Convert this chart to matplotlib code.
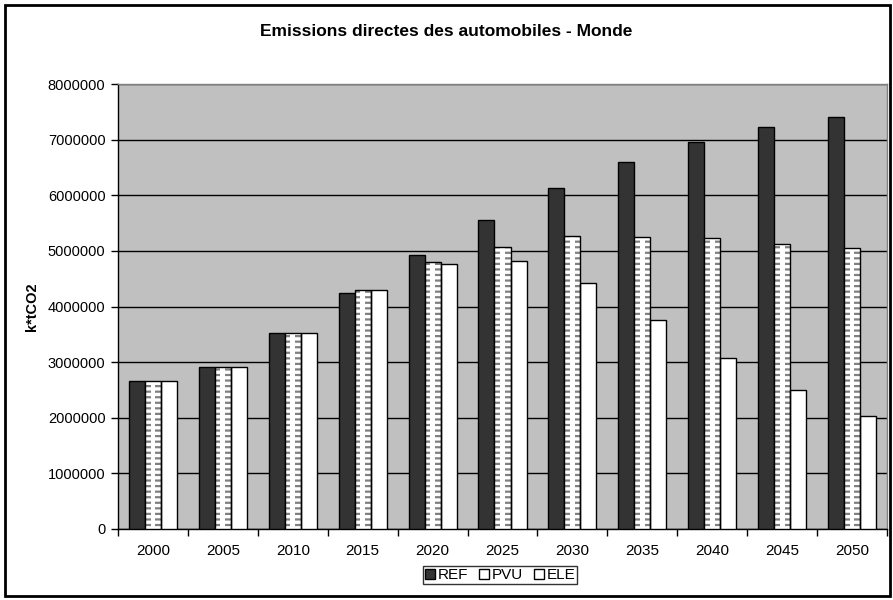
import matplotlib
matplotlib.use("Agg")
import matplotlib.pyplot as plt
from matplotlib.patches import Rectangle, Patch
import numpy as np

plt.rcParams['font.family'] = ['Liberation Sans', 'DejaVu Sans']
plt.rcParams['hatch.linewidth'] = 1.6

years = ['2000', '2005', '2010', '2015', '2020', '2025', '2030', '2035', '2040', '2045', '2050']
ref = [2660000, 2910000, 3520000, 4250000, 4930000, 5550000, 6130000, 6590000, 6960000, 7230000, 7400000]
pvu = [2660000, 2910000, 3520000, 4300000, 4800000, 5070000, 5270000, 5250000, 5230000, 5130000, 5060000]
ele = [2660000, 2910000, 3520000, 4300000, 4770000, 4810000, 4430000, 3760000, 3070000, 2500000, 2030000]
series_names = ['REF', 'PVU', 'ELE']

fig = plt.figure(figsize=(8.93, 6.0), dpi=100)
ax = fig.add_axes([118/893, 1-529/600, 769/893, 445/600])
ax.set_facecolor('#C0C0C0')

x = np.arange(len(years))
w = 0.229

ax.bar(x - w, ref, w, color='#333333', edgecolor='black', linewidth=1, zorder=3)
# PVU: white with gray dashes at the edges
ax.bar(x, pvu, w, color='white', edgecolor='#808080', hatch='---', linewidth=0, zorder=3)
ax.bar(x, pvu, w * 0.3, color='white', edgecolor='none', linewidth=0, zorder=3.5)
ax.bar(x, pvu, w, color='none', edgecolor='black', linewidth=1, zorder=4)
ax.bar(x + w, ele, w, color='white', edgecolor='black', linewidth=1, zorder=3)

ax.set_xlim(-0.5, len(years) - 0.5)
ax.set_ylim(0, 8000000)
ax.set_yticks(np.arange(0, 8000001, 1000000))
ax.set_yticklabels([f'{int(v)}' for v in np.arange(0, 8000001, 1000000)], fontsize=10.5)
ax.yaxis.grid(True, color='black', linewidth=1)
ax.set_axisbelow(True)

ax.set_xticks(x)
ax.set_xticklabels(years, fontsize=11)
ax.tick_params(axis='x', which='major', length=0, pad=11)
ax.set_xticks(np.arange(-0.5, len(years)), minor=True)
ax.tick_params(axis='x', which='minor', length=5, width=1, direction='out')
ax.tick_params(axis='y', length=5, width=1, direction='out', pad=4)

for s in ['left', 'bottom']:
    ax.spines[s].set_color('black')
    ax.spines[s].set_linewidth(1)
for s in ['top', 'right']:
    ax.spines[s].set_color('#808080')
    ax.spines[s].set_linewidth(1)

ax.set_ylabel('k*tCO2', fontsize=10.5, fontweight='bold')
ax.yaxis.set_label_coords(-0.103, 0.5)

fig.text(0.5, 1 - 31/600, 'Emissions directes des automobiles - Monde', ha='center', va='center',
         fontsize=12.5, fontweight='bold')

handles = [Patch(facecolor='#333333', edgecolor='black', linewidth=1),
           Patch(facecolor='white', edgecolor='black', linewidth=1),
           Patch(facecolor='white', edgecolor='black', linewidth=1)]
leg = fig.legend(handles, series_names, loc='center', bbox_to_anchor=(500/893, 1 - 575/600),
                 ncol=3, fontsize=11, frameon=True, fancybox=False, edgecolor='black',
                 handlelength=0.65, handleheight=0.65, handletextpad=0.2, columnspacing=0.7,
                 borderpad=0.12, borderaxespad=0)
leg.get_frame().set_linewidth(1)

fig.patches.append(Rectangle((5/893, 4/600), 885/893, 591/600, transform=fig.transFigure,
                             fill=False, edgecolor='black', linewidth=2))

fig.savefig('out.png', dpi=100)
